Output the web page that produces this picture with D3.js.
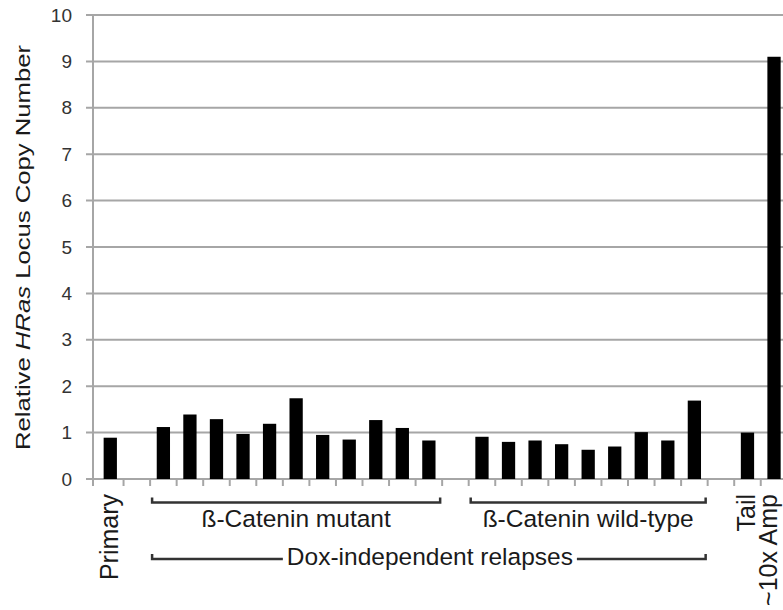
<!DOCTYPE html>
<html>
<head>
<meta charset="utf-8">
<script src="https://cdn.jsdelivr.net/npm/d3@7"></script>
<style>
  body { margin: 0; background: #fff; }
  svg { display: block; font-family: "Liberation Sans", Arial, sans-serif; }
</style>
</head>
<body>
<div id="vis"></div>
<script>
// values
const primaryValues = [0.89];
const mutantValues = [1.12, 1.39, 1.29, 0.97, 1.19, 1.74, 0.95, 0.85, 1.27, 1.10, 0.83];
const wildTypeValues = [0.91, 0.80, 0.83, 0.75, 0.63, 0.70, 1.01, 0.83, 1.69];
const tailValues = [1.0];
const ampValues = [9.1];

const yTicks = [0, 1, 2, 3, 4, 5, 6, 7, 8, 9, 10];
const sideLabels = ["Primary", "Tail", "~10x Amp"];
const groupLabels = ["ß-Catenin mutant", "ß-Catenin wild-type"];
const relapseLabel = "Dox-independent relapses";

const FRAME_WIDTH = 783;
const FRAME_HEIGHT = 610;

// build the slot list (gaps are empty slots)
let slots = [];
slots.push({id: "p0", label: sideLabels[0], value: primaryValues[0]});
slots.push({id: "gap1"});
mutantValues.forEach((v, i) => slots.push({id: "m" + i, group: 0, value: v}));
slots.push({id: "gap2"});
wildTypeValues.forEach((v, i) => slots.push({id: "w" + i, group: 1, value: v}));
slots.push({id: "gap3"});
slots.push({id: "t0", label: sideLabels[1], value: tailValues[0]});
slots.push({id: "a0", label: sideLabels[2], value: ampValues[0], shift: -5});

const svg = d3.select("#vis")
  .append("svg")
  .attr("width", FRAME_WIDTH)
  .attr("height", FRAME_HEIGHT);

const X_SCALE = d3.scaleBand()
  .domain(slots.map(d => d.id))
  .range([97, 97 + slots.length * 26.55])
  .paddingInner(0.5)
  .paddingOuter(0.25);

const Y_SCALE = d3.scaleLinear()
  .domain([0, 10])
  .range([479, 15]);

const AXIS_X = 93;
const GRID = "#a6a6a6";
const INK = "#1a1a1a";

// gridlines
svg.append("g")
  .selectAll("line")
  .data(yTicks)
  .enter()
  .append("line")
    .attr("x1", AXIS_X - 7)
    .attr("x2", FRAME_WIDTH)
    .attr("y1", d => Y_SCALE(d))
    .attr("y2", d => Y_SCALE(d))
    .attr("stroke", GRID)
    .attr("stroke-width", 2);

// y axis line
svg.append("line")
  .attr("x1", AXIS_X).attr("x2", AXIS_X)
  .attr("y1", Y_SCALE(10)).attr("y2", Y_SCALE(0) + 7)
  .attr("stroke", GRID)
  .attr("stroke-width", 2);

// tick labels
svg.append("g")
  .selectAll("text")
  .data(yTicks)
  .enter()
  .append("text")
    .attr("x", 72)
    .attr("y", d => Y_SCALE(d))
    .attr("dy", "0.35em")
    .attr("text-anchor", "end")
    .attr("font-size", "19px")
    .attr("fill", "#333")
    .text(d => d);

// x ticks at every slot boundary
const step = X_SCALE.step();
const x0 = X_SCALE.range()[0];
svg.append("g")
  .selectAll("line")
  .data(slots.slice(1))
  .enter()
  .append("line")
    .attr("x1", (d, i) => x0 + (i + 1) * step)
    .attr("x2", (d, i) => x0 + (i + 1) * step)
    .attr("y1", Y_SCALE(0))
    .attr("y2", Y_SCALE(0) + 7)
    .attr("stroke", GRID)
    .attr("stroke-width", 2);

// bars
svg.append("g")
  .selectAll("rect")
  .data(slots.filter(d => d.value !== undefined))
  .enter()
  .append("rect")
    .attr("x", d => X_SCALE(d.id))
    .attr("y", d => Y_SCALE(d.value))
    .attr("width", X_SCALE.bandwidth())
    .attr("height", d => Y_SCALE(0) - Y_SCALE(d.value))
    .attr("fill", "#000");

// y title
svg.append("text")
  .attr("transform", "translate(29.5,247.5) rotate(-90)")
  .attr("text-anchor", "middle")
  .attr("font-size", "20px")
  .attr("textLength", 405)
  .attr("lengthAdjust", "spacingAndGlyphs")
  .attr("fill", INK)
  .call(t => {
    t.append("tspan").text("Relative ");
    t.append("tspan").attr("font-style", "italic").text("HRas");
    t.append("tspan").text(" Locus Copy Number");
  });

// rotated single labels
svg.append("g")
  .selectAll("text")
  .data(slots.filter(d => d.label))
  .enter()
  .append("text")
    .attr("transform", d => "translate(" + (X_SCALE(d.id) + X_SCALE.bandwidth() / 2 - 1 + (d.shift || 0)) + ",494) rotate(-90)")
    .attr("dy", "0.35em")
    .attr("text-anchor", "end")
    .attr("font-size", "25px")
    .attr("fill", INK)
    .text(d => d.label);

// helper: slot boundary extents for a group
function groupExtent(ids) {
  let left = X_SCALE(ids[0]) - (step - X_SCALE.bandwidth()) / 2;
  let right = X_SCALE(ids[ids.length - 1]) + X_SCALE.bandwidth() + (step - X_SCALE.bandwidth()) / 2;
  return [left + 2, right - 2];
}

const BRACKET = "#333";
function bracketPath(l, r, y) {
  return "M" + l + "," + (y - 5) + "V" + y + "H" + r + "V" + (y - 5);
}

[0, 1].forEach(g => {
  let ids = slots.filter(d => d.group === g).map(d => d.id);
  let ext = groupExtent(ids);
  svg.append("path")
    .attr("d", bracketPath(ext[0], ext[1], 502.5))
    .attr("fill", "none")
    .attr("stroke", BRACKET)
    .attr("stroke-width", 2.5);
  svg.append("text")
    .attr("x", (ext[0] + ext[1]) / 2)
    .attr("y", 527)
    .attr("text-anchor", "middle")
    .attr("font-size", "24.5px")
    .attr("fill", INK)
    .text(groupLabels[g]);
});

// relapse bracket with text in the middle
let relIds = slots.filter(d => d.group !== undefined).map(d => d.id);
let relExt = groupExtent(relIds);
let relMid = (relExt[0] + relExt[1]) / 2 + 1;
let relText = svg.append("text")
  .attr("x", relMid)
  .attr("y", 565)
  .attr("text-anchor", "middle")
  .attr("font-size", "24.5px")
  .attr("fill", INK)
  .text(relapseLabel);
let half = relText.node().getComputedTextLength() / 2;
svg.append("path")
  .attr("d", "M" + relExt[0] + "," + 554 + "V" + 559 + "H" + (relMid - half - 4))
  .attr("fill", "none")
  .attr("stroke", BRACKET)
  .attr("stroke-width", 2.5);
svg.append("path")
  .attr("d", "M" + (relMid + half + 4) + "," + 559 + "H" + relExt[1] + "V" + 554)
  .attr("fill", "none")
  .attr("stroke", BRACKET)
  .attr("stroke-width", 2.5);
</script>
</body>
</html>
